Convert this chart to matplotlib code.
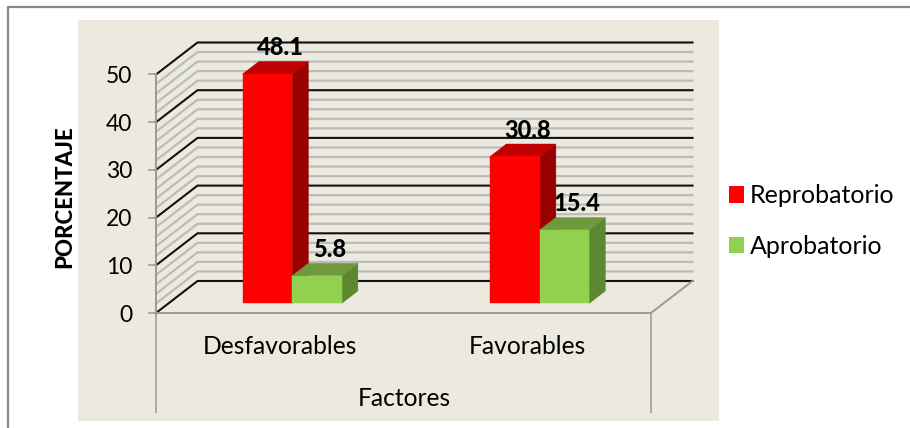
import numpy as np
import matplotlib
matplotlib.use("Agg")
import matplotlib.pyplot as plt
from matplotlib.lines import Line2D
from matplotlib.patches import Patch, Polygon, Rectangle

categories = ["Desfavorables", "Favorables"]
reprobatorio = [48.1, 30.8]
aprobatorio = [5.8, 15.4]
series_names = ["Reprobatorio", "Aprobatorio"]
y_ticks = [0, 10, 20, 30, 40, 50]
y_title = "PORCENTAJE"
x_title = "Factores"

W, H = 910, 428
plt.rcParams["font.family"] = ["Lato", "DejaVu Sans"]
fig = plt.figure(figsize=(W / 100, H / 100), dpi=100, facecolor="white")


def fx(px):
    return px / W


def fy(py):
    return 1 - py / H


# outer frame and beige plot panel
fig.add_artist(Line2D([fx(8), fx(8), fx(910)], [fy(428), fy(7), fy(7)],
                      color="#8a8a8a", lw=1.6, transform=fig.transFigure))
fig.add_artist(Rectangle((fx(78), fy(421)), fx(641), fy(20) - fy(421),
                         facecolor="#ECEADF", edgecolor="none",
                         transform=fig.transFigure, zorder=0))

ax = fig.add_axes([fx(156), fy(313), fx(495), fy(74.5) - fy(313)])
ax.set_xlim(0, 2)
ax.set_ylim(0, 50)
ax.patch.set_visible(False)

# oblique projection of the depth axis, in data units
DX = 41.5 / 247.5
DY = 32 / 4.77
BAR_W = 0.2
D_FRONT, D_BACK = 0.3, 0.69


def proj(x, y, d):
    return x + DX * d, y + DY * d


# walls: minor lines every 2 units, major lines every 10 units
for v in np.arange(0, 52, 2):
    major = v % 10 == 0
    xs, ys = zip(proj(0, v, 0), proj(0, v, 1), proj(2, v, 1))
    ax.plot(xs, ys, clip_on=False, color="#111111" if major else "#BBBBBB",
            lw=1.5 if major else 1.6, zorder=2 if major else 1,
            solid_joinstyle="miter")

# floor edge on the right
xs, ys = zip(proj(2, 0, 0), proj(2, 0, 1))
ax.plot(xs, ys, clip_on=False, color="#999999", lw=1.4, zorder=2)


def bar3d(x0, value, face, top, side, z):
    x1 = x0 + BAR_W
    corners = {
        "front": [proj(x0, 0, D_FRONT), proj(x1, 0, D_FRONT),
                  proj(x1, value, D_FRONT), proj(x0, value, D_FRONT)],
        "top": [proj(x0, value, D_FRONT), proj(x1, value, D_FRONT),
                proj(x1, value, D_BACK), proj(x0, value, D_BACK)],
        "side": [proj(x1, 0, D_FRONT), proj(x1, 0, D_BACK),
                 proj(x1, value, D_BACK), proj(x1, value, D_FRONT)],
    }
    for key, col in (("side", side), ("top", top), ("front", face)):
        ax.add_patch(Polygon(corners[key], closed=True, facecolor=col,
                             edgecolor=col, lw=0.3, clip_on=False, zorder=z))
    lx, ly = proj(x0 + BAR_W / 2, value, D_FRONT)
    ax.annotate(f"{value}", (lx, ly), xytext=(9, 19),
                textcoords="offset points", ha="center", va="center",
                fontsize=17, fontweight="black", color="black", zorder=10,
                annotation_clip=False)


centers = np.array([0.5, 1.5])
for c, r, a in zip(centers, reprobatorio, aprobatorio):
    bar3d(c - BAR_W, r, "#FF0000", "#C00000", "#990000", 4)
    bar3d(c, a, "#92D050", "#6F9A3C", "#5E8732", 5)

# axes
for name in ("top", "right"):
    ax.spines[name].set_visible(False)
for name in ("left", "bottom"):
    ax.spines[name].set_color("#999999")
    ax.spines[name].set_linewidth(1.4)
    ax.spines[name].set_zorder(6)

ax.set_yticks(y_ticks)
ax.tick_params(axis="y", length=6, width=1.1, color="#999999",
               labelsize=16.5, pad=11, labelcolor="black")
ax.set_xticks([0, 2])
ax.set_xticklabels([])
ax.tick_params(axis="x", which="major", length=72, width=1.1, color="#999999")
ax.set_xticks(centers, minor=True)
ax.set_xticklabels(categories, minor=True)
ax.tick_params(axis="x", which="minor", length=0, pad=16, labelsize=17.7)

fig.text(fx(404), fy(398), x_title, ha="center", va="center", fontsize=17.7)
fig.text(fx(65), fy(197), y_title, rotation=90, ha="center", va="center",
         fontsize=16, fontweight="black")

handles = [Patch(facecolor="#FF0000", edgecolor="none"),
           Patch(facecolor="#92D050", edgecolor="none")]
fig.legend(handles, series_names, loc="center left",
           bbox_to_anchor=(fx(721), fy(221)), frameon=False, fontsize=18,
           handlelength=0.62, handleheight=0.62, handletextpad=0.22,
           labelspacing=1.1, borderpad=0.3, borderaxespad=0)

fig.savefig("out.png", dpi=100, facecolor="white")
